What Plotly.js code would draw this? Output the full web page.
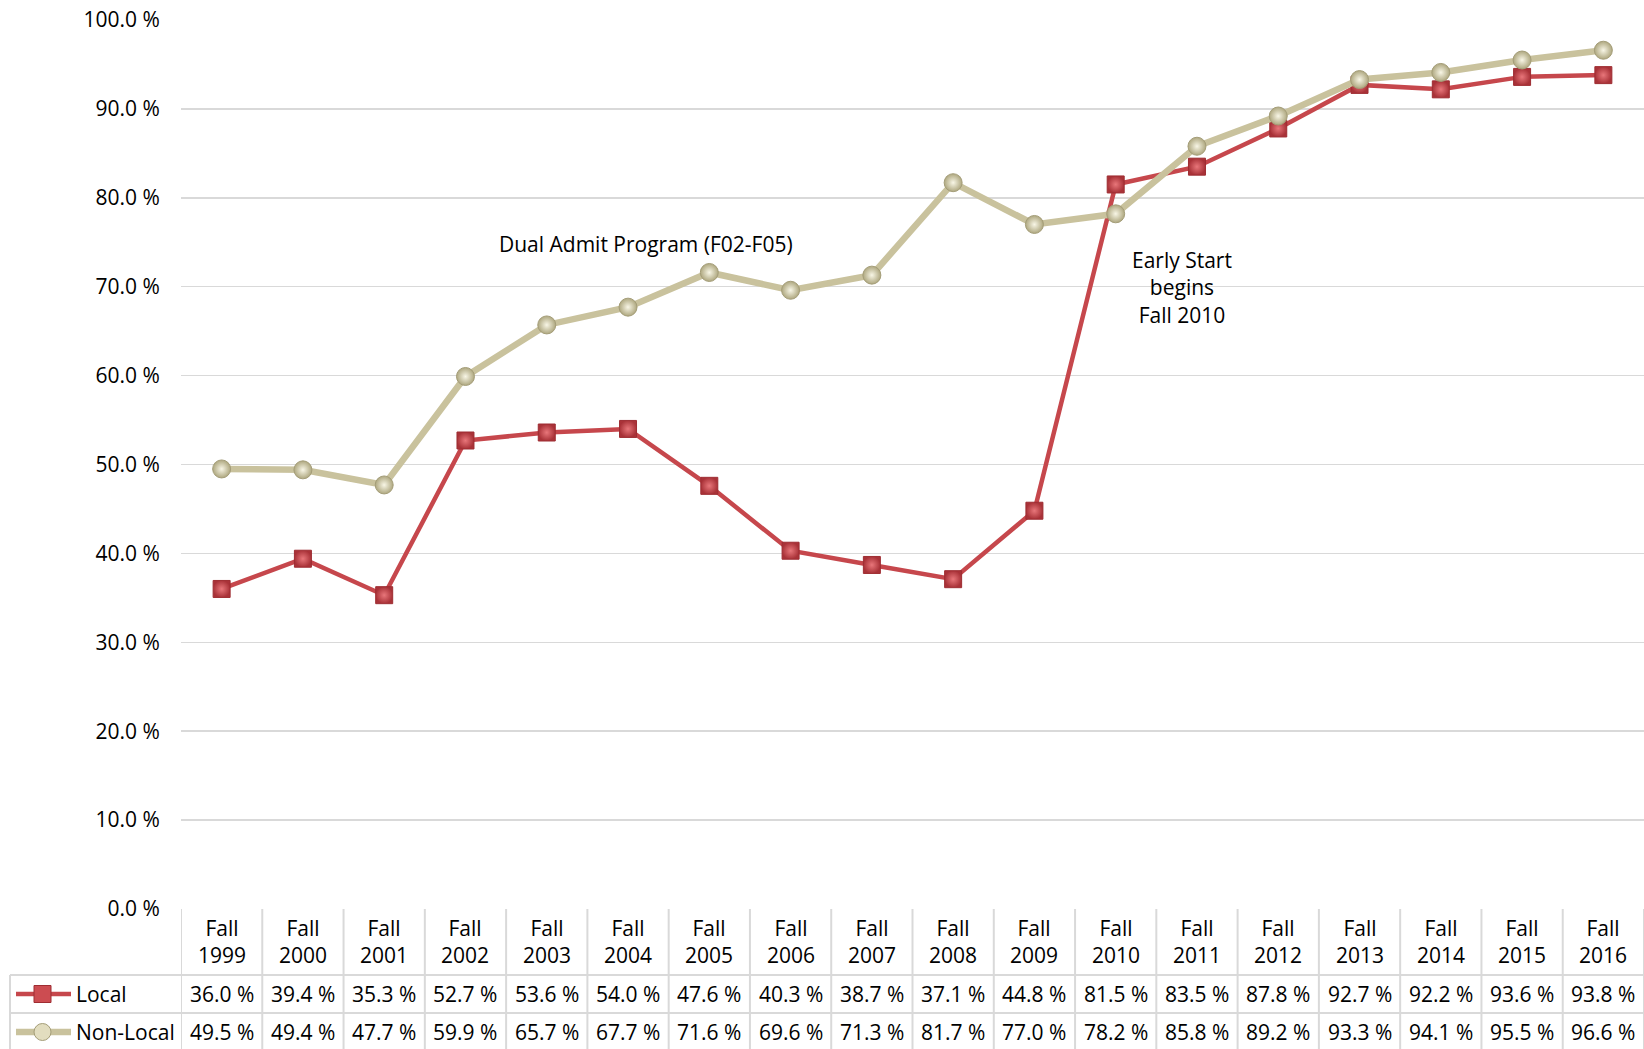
<!DOCTYPE html>
<html>
<head>
<meta charset="utf-8">
<script src="https://cdn.plot.ly/plotly-3.0.1.min.js"></script>
<style>
  html, body { margin: 0; padding: 0; background: #fff; }
  #chart { width: 1644px; height: 1049px; }
</style>
</head>
<body>
<div id="chart"></div>
<script>
// categories and series
const terms = ['Fall 1999', 'Fall 2000', 'Fall 2001', 'Fall 2002', 'Fall 2003', 'Fall 2004',
  'Fall 2005', 'Fall 2006', 'Fall 2007', 'Fall 2008', 'Fall 2009', 'Fall 2010',
  'Fall 2011', 'Fall 2012', 'Fall 2013', 'Fall 2014', 'Fall 2015', 'Fall 2016'];
const local = [36.0, 39.4, 35.3, 52.7, 53.6, 54.0, 47.6, 40.3, 38.7, 37.1, 44.8, 81.5,
  83.5, 87.8, 92.7, 92.2, 93.6, 93.8];
const nonLocal = [49.5, 49.4, 47.7, 59.9, 65.7, 67.7, 71.6, 69.6, 71.3, 81.7, 77.0, 78.2,
  85.8, 89.2, 93.3, 94.1, 95.5, 96.6];
const seriesNames = ['Local', 'Non-Local'];
const yTicks = [0, 10, 20, 30, 40, 50, 60, 70, 80, 90, 100];

const FONT = 'Open Sans, Noto Sans, sans-serif';
const FS = 21;
const GRID = '#d9d9d9';
const RED = '#c6474c';
const TAN = '#c9c29d';

const idx = terms.map((_, i) => i);

// radial gradient: gradient.color is the centre, marker.color the rim
const traces = [
  {
    x: idx, y: local, name: seriesNames[0], type: 'scatter', mode: 'lines+markers',
    line: { color: RED, width: 4.5 },
    marker: { symbol: 'square', size: 17, color: '#a93238',
      gradient: { type: 'radial', color: '#e8767a' },
      line: { color: '#9e2d32', width: 1 } },
    hoverinfo: 'skip'
  },
  {
    x: idx, y: nonLocal, name: seriesNames[1], type: 'scatter', mode: 'lines+markers',
    line: { color: TAN, width: 6.5 },
    marker: { symbol: 'circle', size: 18, color: '#aea77f',
      gradient: { type: 'radial', color: '#f8f6e6' },
      line: { color: '#a49d78', width: 1 } },
    hoverinfo: 'skip'
  }
];

// data table geometry (paper coords; plot area spans y 909 -> 20 px)
const plotTop = 20, plotBot = 909, plotH = plotBot - plotTop;
const plotL = 181, plotW = 1644 - plotL;
const py = px => (plotBot - px) / plotH;
const pxX = px => (px - plotL) / plotW;

const rowHeadBot = 975, rowLocalBot = 1013, pageBot = 1049;

const annotations = [];
const shapes = [];

// header + values
terms.forEach((t, i) => {
  annotations.push({ x: i, xref: 'x', y: py(941), yref: 'paper', text: t.replace(' ', '<br>'),
    showarrow: false, font: { family: FONT, size: FS, color: '#000' }, yanchor: 'middle' });
  annotations.push({ x: i, xref: 'x', y: py(994), yref: 'paper', text: local[i].toFixed(1) + ' %',
    showarrow: false, font: { family: FONT, size: FS, color: '#000' }, yanchor: 'middle' });
  annotations.push({ x: i, xref: 'x', y: py(1032), yref: 'paper', text: nonLocal[i].toFixed(1) + ' %',
    showarrow: false, font: { family: FONT, size: FS, color: '#000' }, yanchor: 'middle' });
});

// column dividers
for (let i = 0; i <= terms.length; i++) {
  shapes.push({ type: 'line', xref: 'x', yref: 'paper', x0: i - 0.5, x1: i - 0.5,
    y0: py(plotBot), y1: py(pageBot + 5), line: { color: GRID, width: 2 } });
}
// row lines (extend into the legend column)
[rowHeadBot, rowLocalBot].forEach(r => {
  shapes.push({ type: 'line', xref: 'paper', yref: 'paper', x0: pxX(10), x1: 1,
    y0: py(r), y1: py(r), line: { color: GRID, width: 2 } });
});
shapes.push({ type: 'line', xref: 'paper', yref: 'paper', x0: pxX(10), x1: pxX(10),
  y0: py(rowHeadBot), y1: py(pageBot + 5), line: { color: GRID, width: 2 } });

// legend keys in the row-label column
const keyRows = [{ y: 994, color: RED, w: 4.5 }, { y: 1032, color: TAN, w: 6.5 }];
keyRows.forEach((k, j) => {
  shapes.push({ type: 'line', xref: 'paper', yref: 'paper', x0: pxX(16), x1: pxX(71),
    y0: py(k.y), y1: py(k.y), line: { color: k.color, width: k.w } });
  if (j === 0) {
    shapes.push({ type: 'rect', xref: 'paper', yref: 'paper', x0: pxX(34), x1: pxX(51),
      y0: py(k.y - 8.5), y1: py(k.y + 8.5), fillcolor: '#cc4c51', line: { color: '#9e2d32', width: 1 } });
  } else {
    shapes.push({ type: 'circle', xref: 'paper', yref: 'paper', x0: pxX(34), x1: pxX(51),
      y0: py(k.y - 8.5), y1: py(k.y + 8.5), fillcolor: '#e2ddbf', line: { color: '#a49d78', width: 1 } });
  }
  annotations.push({ x: pxX(74), xref: 'paper', y: py(k.y), yref: 'paper', text: seriesNames[j],
    xanchor: 'left', yanchor: 'middle', showarrow: false,
    font: { family: FONT, size: FS, color: '#000' } });
});

// chart notes
annotations.push({ x: 5.22, xref: 'x', y: 74.8, yref: 'y', text: 'Dual Admit Program (F02-F05)',
  showarrow: false, font: { family: FONT, size: FS, color: '#000' } });
annotations.push({ x: 11.81, xref: 'x', y: 69.9, yref: 'y', text: 'Early Start<br>begins<br>Fall 2010',
  showarrow: false, font: { family: FONT, size: FS, color: '#000' } });

const layout = {
  width: 1644, height: 1049,
  margin: { l: plotL, r: 0, t: plotTop, b: 1049 - plotBot, pad: 0 },
  paper_bgcolor: '#fff', plot_bgcolor: '#fff',
  showlegend: false,
  xaxis: { range: [-0.5, terms.length - 0.5], showgrid: false, zeroline: false,
    showticklabels: false, showline: false, fixedrange: true },
  yaxis: { range: [0, 100], tickvals: yTicks, ticktext: yTicks.map(v => v.toFixed(1) + ' %'),
    showgrid: true, gridcolor: GRID, gridwidth: 1.5, zeroline: false, showline: false,
    ticks: 'outside', ticklen: 16, tickcolor: 'rgba(0,0,0,0)',
    tickfont: { family: FONT, size: FS, color: '#000' }, fixedrange: true },
  annotations: annotations,
  shapes: shapes
};

Plotly.newPlot('chart', traces, layout, { displayModeBar: false, staticPlot: true });
</script>
</body>
</html>
